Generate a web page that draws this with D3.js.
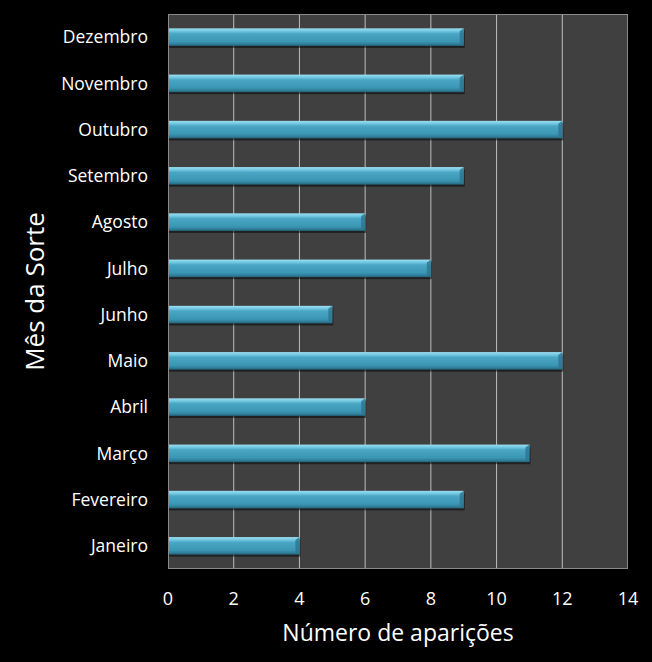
<!DOCTYPE html>
<html>
<head>
<meta charset="utf-8">
<script src="https://cdn.jsdelivr.net/npm/d3@7"></script>
<style>
  html, body { margin: 0; padding: 0; background: #000; }
  svg { display: block; }
  text { font-family: "Open Sans", "Noto Sans", sans-serif; fill: #fff; }
</style>
</head>
<body>
<svg id="chart"></svg>
<script>
var width = 652, height = 662;

// data
var months = ["Janeiro", "Fevereiro", "Março", "Abril", "Maio", "Junho",
              "Julho", "Agosto", "Setembro", "Outubro", "Novembro", "Dezembro"];
var counts = [4, 9, 11, 6, 12, 5, 8, 6, 9, 12, 9, 9];
var xTicks = [0, 2, 4, 6, 8, 10, 12, 14];

var margin = {top: 14, right: 24, bottom: 93, left: 168};
var pw = width - margin.left - margin.right,
    ph = height - margin.top - margin.bottom;

const svg = d3.select('svg#chart')
  .attr('width', width)
  .attr('height', height);

var defs = svg.append("defs");
var grad = defs.append("linearGradient")
  .attr("id", "barGrad")
  .attr("x1", 0).attr("y1", 0).attr("x2", 0).attr("y2", 1);
[[0, "#9be0f3"], [0.18, "#6cc3dd"], [0.3, "#4aa6c4"], [0.75, "#3b96b4"], [0.9, "#2f7e99"], [1, "#245f74"]]
  .forEach(s => grad.append("stop").attr("offset", s[0]).attr("stop-color", s[1]));

var x = d3.scaleLinear().domain([0, 14]).range([0, pw]);
var y = d3.scaleBand().domain(months.slice().reverse()).range([0, ph]).paddingInner(0.62).paddingOuter(0.31);

const g = svg.append("g").attr("transform", `translate(${margin.left},${margin.top})`);

// plot area
g.append("rect")
  .attr("width", pw).attr("height", ph)
  .style("fill", "#404040");

// grid
g.selectAll(".grid").data(xTicks.slice(1, -1))
  .enter().append("line")
  .attr("class", "grid")
  .attr("x1", d => x(d)).attr("x2", d => x(d))
  .attr("y1", 0).attr("y2", ph)
  .style("stroke", "#bdbdbd").style("stroke-width", 1);

// border
g.append("rect")
  .attr("x", 0.5).attr("y", 0.5)
  .attr("width", pw - 1).attr("height", ph - 1)
  .style("fill", "none").style("stroke", "#8a8a8a");

var data = months.map((m, i) => ({month: m, value: counts[i]}));

// bar shadows
g.selectAll(".shadow").data(data)
  .enter().append("rect")
  .attr("class", "shadow")
  .attr("x", 1)
  .attr("y", d => y(d.month) + 2)
  .attr("width", d => x(d.value))
  .attr("height", y.bandwidth())
  .style("fill", "rgba(0,0,0,0.5)");

// bars
g.selectAll(".bar").data(data)
  .enter().append("rect")
  .attr("class", "bar")
  .attr("x", 1)
  .attr("y", d => y(d.month))
  .attr("width", d => x(d.value) - 1)
  .attr("height", y.bandwidth())
  .style("fill", "url(#barGrad)");

// right bevel
g.selectAll(".bevel").data(data)
  .enter().append("path")
  .attr("class", "bevel")
  .attr("d", d => {
    var xe = x(d.value), yt = y(d.month), h = y.bandwidth();
    return `M${xe - 4},${yt + 3} L${xe},${yt} L${xe},${yt + h} L${xe - 4},${yt + h - 3} Z`;
  })
  .style("fill", "#2b7590").style("opacity", 0.8);

// x tick labels
g.selectAll(".xlab").data(xTicks)
  .enter().append("text")
  .attr("class", "xlab")
  .attr("x", d => x(d))
  .attr("y", ph + 36)
  .attr("text-anchor", "middle")
  .style("font-size", "18px")
  .text(d => d);

// y labels
g.selectAll(".ylab").data(months)
  .enter().append("text")
  .attr("class", "ylab")
  .attr("x", -20)
  .attr("y", d => y(d) + y.bandwidth() / 2)
  .attr("dy", "0.35em")
  .attr("text-anchor", "end")
  .style("font-size", "17.5px")
  .text(d => d);

// axis titles
svg.append("text")
  .attr("x", margin.left + pw / 2)
  .attr("y", 641)
  .attr("text-anchor", "middle")
  .style("font-size", "23px")
  .text("Número de aparições");

svg.append("text")
  .attr("transform", `translate(44,${margin.top + ph / 2}) rotate(-90)`)
  .attr("text-anchor", "middle")
  .style("font-size", "26px")
  .text("Mês da Sorte");
</script>
</body>
</html>
